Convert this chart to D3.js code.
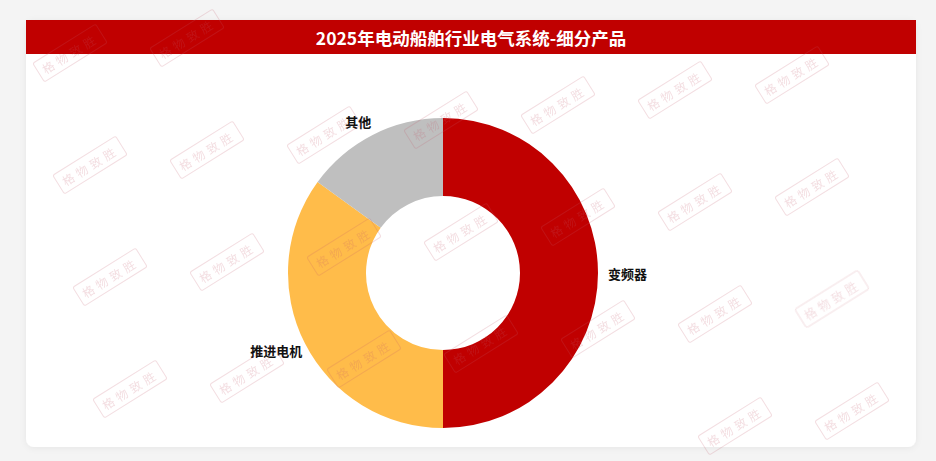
<!DOCTYPE html>
<html>
<head>
<meta charset="utf-8">
<script src="https://cdn.jsdelivr.net/npm/d3@7"></script>
<style>
  html, body { margin: 0; padding: 0; background: #f4f4f4; }
  svg { display: block; font-family: "Noto Sans CJK SC", "Noto Sans", sans-serif; }
</style>
</head>
<body>
<div id="chart"></div>
<script>
"use strict";

// chart data
var title = "2025年电动船舶行业电气系统-细分产品";
var categories = ["变频器", "推进电机", "其他"];
var shares = [50, 35, 15];
var colors = ["#c00000", "#ffbc4a", "#bfbfbf"];
var watermarkText = "格物致胜";

var width = 936, height = 461;
var card = { x: 26, y: 20, w: 890, h: 427 };
var cx = 443, cy = 273, outerR = 155, innerR = 77;

var svg = d3.select("#chart").append("svg")
  .attr("width", width)
  .attr("height", height);

var defs = svg.append("defs");
var shadow = defs.append("filter").attr("id", "shadow")
  .attr("x", "-5%").attr("y", "-5%").attr("width", "110%").attr("height", "110%");
shadow.append("feDropShadow")
  .attr("dx", 0).attr("dy", 1).attr("stdDeviation", 3)
  .attr("flood-color", "#000").attr("flood-opacity", 0.06);

// card background
svg.append("rect")
  .attr("x", card.x).attr("y", card.y)
  .attr("width", card.w).attr("height", card.h)
  .attr("rx", 8)
  .attr("fill", "#ffffff")
  .attr("filter", "url(#shadow)");

// title bar
svg.append("rect")
  .attr("x", card.x).attr("y", card.y)
  .attr("width", card.w).attr("height", 34)
  .attr("fill", "#c00000");

svg.append("text")
  .attr("x", card.x + card.w / 2)
  .attr("y", card.y + 17)
  .attr("text-anchor", "middle")
  .attr("dominant-baseline", "central")
  .attr("fill", "#ffffff")
  .attr("font-size", 17.5)
  .attr("font-weight", "bold")
  .text(title);

// donut
var data = categories.map(function (c, i) {
  return { name: c, value: shares[i], color: colors[i] };
});

var pie = d3.pie()
  .sort(null)
  .value(function (d) { return d.value; });

var arc = d3.arc().innerRadius(innerR).outerRadius(outerR);

var g = svg.append("g").attr("transform", "translate(" + cx + "," + cy + ")");
var arcs = pie(data);

g.selectAll("path.slice")
  .data(arcs)
  .enter()
  .append("path")
  .attr("class", "slice")
  .attr("d", arc)
  .attr("fill", function (d) { return d.data.color; });

// labels just outside each slice
g.selectAll("text.label")
  .data(arcs)
  .enter()
  .append("text")
  .attr("class", "label")
  .each(function (d) {
    var mid = (d.startAngle + d.endAngle) / 2;
    var x = Math.sin(mid) * (outerR + 3);
    var y = -Math.cos(mid) * (outerR + 15);
    var right = x >= 0;
    d3.select(this)
      .attr("x", right ? x + 7 : x)
      .attr("y", y)
      .attr("text-anchor", right ? "start" : "end");
  })
  .attr("dominant-baseline", "central")
  .attr("font-size", 13)
  .attr("font-weight", "bold")
  .attr("fill", "#111")
  .text(function (d) { return d.data.name; });

// watermark layer on top
var wm = svg.append("g").attr("opacity", 0.2);
for (var j = -2; j < 5; j++) {
  for (var i = -2; i < 10; i++) {
    var wx = 90 + 117 * i + 20 * j;
    var wy = 165 - 15 * i + 112 * j;
    if (wx < 40 || wx > width - 40 || wy < 28 || wy > height - 28) continue;
    var w = wm.append("g")
      .attr("transform", "translate(" + wx + "," + wy + ") rotate(-32)");
    w.append("rect")
      .attr("x", -37).attr("y", -11)
      .attr("width", 74).attr("height", 22)
      .attr("rx", 2)
      .attr("fill", "none")
      .attr("stroke", "#c45a6c")
      .attr("stroke-width", 1);
    w.append("text")
      .attr("text-anchor", "middle")
      .attr("dominant-baseline", "central")
      .attr("font-size", 12)
      .attr("letter-spacing", 4)
      .attr("fill", "#c45a6c")
      .text(watermarkText);
  }
}
</script>
</body>
</html>
